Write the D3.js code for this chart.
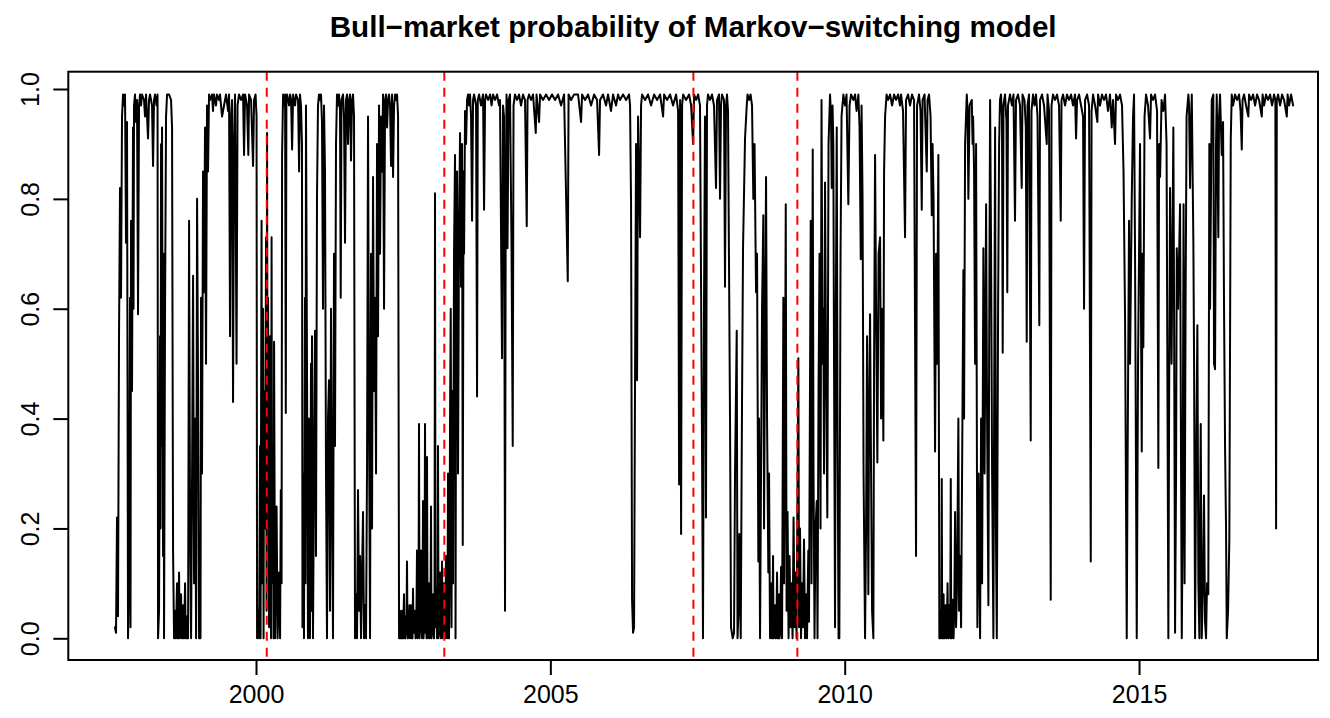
<!DOCTYPE html>
<html>
<head>
<meta charset="utf-8">
<script src="https://cdn.jsdelivr.net/npm/d3@7"></script>
<style>
  html, body { margin: 0; padding: 0; background: #ffffff; }
  svg { display: block; }
  text { font-family: "Liberation Sans", Arial, Helvetica, sans-serif; fill: #000; }
</style>
</head>
<body>
<svg id="chart" width="1330" height="718"></svg>
<script>
// ---------------- data (decimal year, bull-market probability) ----------------
const chartTitle = "Bull\u2212market probability of Markov\u2212switching model";
const xTicks = [2000, 2005, 2010, 2015];
const yTicks = [0, 0.2, 0.4, 0.6, 0.8, 1.0];
const eventYears = [2000.183, 2003.199, 2007.430, 2009.196];

const seg1997 = [[1997.605,0.02],[1997.622,0.01],[1997.639,0.22],[1997.656,0.04],[1997.673,0.55],[1997.690,0.82],[1997.707,0.62],[1997.724,0.95],[1997.741,0.99],[1997.758,0.97],[1997.775,0.99],[1997.792,0.72],[1997.809,0.94],[1997.826,0.0],[1997.843,0.12],[1997.860,0.62],[1997.8685,0.02],[1997.877,0.76],[1997.894,0.45],[1997.911,0.93],[1997.9195,0.6],[1997.928,0.97],[1997.945,0.99],[1997.962,0.94],[1997.979,0.98],[1997.996,0.59],[1998.013,0.97],[1998.030,0.99],[1998.047,0.97],[1998.064,0.99],[1998.098,0.98],[1998.115,0.95],[1998.132,0.99],[1998.166,0.91],[1998.183,0.98],[1998.200,0.99],[1998.234,0.97],[1998.251,0.86],[1998.268,0.98],[1998.285,0.99],[1998.3105,0.97],[1998.3275,0.99],[1998.336,0.0],[1998.353,0.05],[1998.370,0.55],[1998.3785,0.2],[1998.387,0.9],[1998.3955,0.35],[1998.404,0.93],[1998.421,0.15],[1998.4295,0.7],[1998.438,0.0],[1998.455,0.6],[1998.472,0.95],[1998.489,0.99],[1998.523,0.99],[1998.557,0.98],[1998.574,0.93],[1998.591,0.16],[1998.608,0.0],[1998.6165,0.04],[1998.625,0.05],[1998.6335,0.0],[1998.642,0.0],[1998.6505,0.06],[1998.659,0.1],[1998.6675,0.01],[1998.676,0.0],[1998.6845,0.05],[1998.693,0.12],[1998.7015,0.0],[1998.710,0.02],[1998.7185,0.07],[1998.727,0.08],[1998.7355,0.0],[1998.744,0.0],[1998.7525,0.04],[1998.761,0.06],[1998.7695,0.0],[1998.778,0.0],[1998.7865,0.05],[1998.795,0.1],[1998.8035,0.01],[1998.812,0.0],[1998.8205,0.03],[1998.829,0.04],[1998.8375,0.0],[1998.846,0.0],[1998.863,0.76],[1998.880,0.2],[1998.897,0.0],[1998.914,0.3],[1998.931,0.66],[1998.948,0.1],[1998.965,0.4],[1998.982,0.0],[1998.999,0.8],[1999.016,0.45],[1999.033,0.0],[1999.0575,0.0],[1999.066,0.62],[1999.083,0.3],[1999.100,0.85],[1999.117,0.63],[1999.134,0.93],[1999.151,0.5],[1999.168,0.97],[1999.185,0.85],[1999.202,0.99],[1999.219,0.98],[1999.253,0.99],[1999.270,0.96],[1999.287,0.99],[1999.321,0.97],[1999.338,0.99],[1999.372,0.98],[1999.389,0.99],[1999.423,0.95],[1999.457,0.97],[1999.491,0.99],[1999.525,0.96],[1999.542,0.99],[1999.559,0.55],[1999.576,0.95],[1999.593,0.98],[1999.610,0.43],[1999.627,0.9],[1999.644,0.99],[1999.6695,0.5],[1999.6865,0.97],[1999.712,0.99],[1999.746,0.98],[1999.780,0.99],[1999.797,0.88],[1999.814,0.99],[1999.848,0.97],[1999.870,0.88],[1999.882,0.99],[1999.916,0.98],[1999.950,0.86],[1999.967,0.98],[1999.9925,0.99],[2000.0095,0.95],[2000.018,0.0]];

const seg2000 = [[2000.035,0.05],[2000.052,0.0],[2000.069,0.35],[2000.0775,0.0],[2000.0945,0.76],[2000.103,0.1],[2000.120,0.6],[2000.1285,0.0],[2000.137,0.45],[2000.154,0.2],[2000.171,0.73],[2000.1795,0.05],[2000.188,0.92],[2000.1965,0.3],[2000.205,0.62],[2000.222,0.02],[2000.239,0.55],[2000.256,0.0],[2000.2645,0.73],[2000.273,0.1],[2000.290,0.3],[2000.2985,0.0],[2000.307,0.54],[2000.324,0.0],[2000.3495,0.24],[2000.3665,0.0],[2000.392,0.12],[2000.409,0.0],[2000.421,0.27],[2000.4345,0.1],[2000.443,0.88],[2000.460,0.99],[2000.477,0.97],[2000.494,0.99],[2000.506,0.41],[2000.516,0.98],[2000.528,0.99],[2000.562,0.97],[2000.579,0.99],[2000.596,0.98],[2000.613,0.89],[2000.630,0.99],[2000.664,0.97],[2000.681,0.99],[2000.715,0.98],[2000.732,0.85],[2000.747,0.99],[2000.764,0.97],[2000.781,0.9],[2000.7895,0.02],[2000.8065,0.3],[2000.815,0.0],[2000.832,0.62],[2000.8405,0.1],[2000.849,0.97],[2000.866,0.5],[2000.883,0.0],[2000.900,0.4],[2000.917,0.0],[2000.934,0.5],[2000.9425,0.05],[2000.951,0.55],[2000.968,0.0],[2000.985,0.3],[2001.002,0.56],[2001.019,0.15],[2001.036,0.8],[2001.053,0.97],[2001.070,0.99],[2001.087,0.98],[2001.104,0.99],[2001.121,0.94],[2001.138,0.6],[2001.155,0.97],[2001.172,0.85],[2001.189,0.3],[2001.206,0.0],[2001.223,0.4],[2001.240,0.47],[2001.257,0.05],[2001.274,0.6],[2001.291,0.25],[2001.308,0.0],[2001.325,0.7],[2001.342,0.35],[2001.359,0.9],[2001.376,0.99],[2001.393,0.97],[2001.410,0.99],[2001.427,0.96],[2001.439,0.62],[2001.4525,0.98],[2001.478,0.99],[2001.495,0.95],[2001.512,0.72],[2001.529,0.98],[2001.546,0.99],[2001.563,0.9],[2001.580,0.98],[2001.597,0.99],[2001.614,0.87],[2001.631,0.98],[2001.648,0.99],[2001.665,0.95],[2001.682,0.0],[2001.699,0.08],[2001.716,0.0],[2001.733,0.27],[2001.750,0.05],[2001.767,0.15],[2001.784,0.0],[2001.801,0.12],[2001.818,0.23],[2001.835,0.0],[2001.852,0.06],[2001.869,0.0],[2001.886,0.31],[2001.903,0.95],[2001.920,0.4],[2001.937,0.0],[2001.954,0.7],[2001.971,0.2],[2001.988,0.84],[2002.005,0.45],[2002.022,0.62],[2002.039,0.3],[2002.056,0.9],[2002.073,0.55],[2002.090,0.97],[2002.107,0.7],[2002.124,0.95],[2002.141,0.85],[2002.158,0.99],[2002.175,0.6],[2002.192,0.98],[2002.209,0.99],[2002.226,0.93],[2002.243,0.98],[2002.260,0.99],[2002.277,0.97],[2002.294,0.86],[2002.311,0.99],[2002.328,0.84],[2002.345,0.97],[2002.362,0.99],[2002.379,0.98],[2002.396,0.99],[2002.413,0.95],[2002.430,0.0]];

const seg2002 = [[2002.446,0.05],[2002.4545,0.0],[2002.463,0.03],[2002.4715,0.0],[2002.480,0.05],[2002.4885,0.01],[2002.497,0.0],[2002.5055,0.04],[2002.514,0.08],[2002.5225,0.0],[2002.531,0.03],[2002.5395,0.0],[2002.548,0.04],[2002.5565,0.02],[2002.565,0.14],[2002.5735,0.01],[2002.582,0.0],[2002.5905,0.05],[2002.599,0.02],[2002.6075,0.06],[2002.616,0.0],[2002.6245,0.04],[2002.633,0.06],[2002.6415,0.0],[2002.650,0.03],[2002.6585,0.0],[2002.667,0.09],[2002.6755,0.02],[2002.684,0.01],[2002.6925,0.05],[2002.701,0.04],[2002.7095,0.0],[2002.718,0.02],[2002.7265,0.06],[2002.735,0.16],[2002.7435,0.0],[2002.752,0.02],[2002.7605,0.05],[2002.769,0.39],[2002.7775,0.0],[2002.786,0.03],[2002.7945,0.06],[2002.803,0.16],[2002.8115,0.02],[2002.820,0.0],[2002.8285,0.05],[2002.837,0.25],[2002.8455,0.0],[2002.854,0.02],[2002.8625,0.07],[2002.871,0.39],[2002.8795,0.01],[2002.888,0.05],[2002.8965,0.0],[2002.905,0.33],[2002.9135,0.03],[2002.922,0.0],[2002.9305,0.06],[2002.939,0.1],[2002.9475,0.01],[2002.956,0.0],[2002.9645,0.05],[2002.973,0.24],[2002.9815,0.0],[2002.990,0.02],[2002.9985,0.06],[2003.007,0.08],[2003.0155,0.01],[2003.024,0.0],[2003.0325,0.05],[2003.041,0.81],[2003.0495,0.02],[2003.058,0.05],[2003.0665,0.09],[2003.075,0.0],[2003.0835,0.04],[2003.092,0.35],[2003.1005,0.0],[2003.109,0.02],[2003.1175,0.08],[2003.126,0.12],[2003.1345,0.01],[2003.143,0.0],[2003.1515,0.06],[2003.160,0.14],[2003.1685,0.0],[2003.177,0.02],[2003.1855,0.07],[2003.194,0.1],[2003.2025,0.01],[2003.211,0.0],[2003.2195,0.05],[2003.228,0.15],[2003.2365,0.02],[2003.245,0.0],[2003.2535,0.08],[2003.262,0.3],[2003.2705,0.0],[2003.279,0.0],[2003.2875,0.1],[2003.296,0.4],[2003.308,0.6],[2003.3215,0.02],[2003.330,0.45],[2003.347,0.1],[2003.364,0.7],[2003.381,0.88],[2003.3895,0.0],[2003.398,0.5],[2003.415,0.85],[2003.432,0.3],[2003.449,0.75],[2003.466,0.92],[2003.483,0.64],[2003.500,0.9],[2003.512,0.17],[2003.5255,0.85],[2003.534,0.7],[2003.551,0.96],[2003.568,0.9],[2003.585,0.98],[2003.602,0.99],[2003.619,0.97],[2003.636,0.99],[2003.653,0.95],[2003.670,0.76],[2003.687,0.98],[2003.704,0.99],[2003.738,0.97],[2003.755,0.44],[2003.767,0.98],[2003.789,0.99],[2003.823,0.97],[2003.857,0.99],[2003.874,0.78],[2003.891,0.98],[2003.908,0.99],[2003.942,0.98],[2003.976,0.99],[2004.0015,0.97],[2004.027,0.99],[2004.061,0.98],[2004.095,0.99],[2004.129,0.97]];

const seg2004 = [[2004.145,0.98],[2004.179,0.51],[2004.196,0.97],[2004.213,0.95],[2004.230,0.05],[2004.242,0.8],[2004.2555,0.99],[2004.2725,0.71],[2004.2895,0.98],[2004.315,0.99],[2004.3405,0.71],[2004.361,0.35],[2004.3745,0.97],[2004.400,0.99],[2004.434,0.98],[2004.468,0.99],[2004.502,0.97],[2004.536,0.99],[2004.570,0.98],[2004.599,0.75],[2004.6125,0.98],[2004.638,0.99],[2004.672,0.98],[2004.706,0.99],[2004.752,0.92],[2004.7655,0.99],[2004.808,0.94],[2004.825,0.99],[2004.876,0.98],[2004.927,0.99],[2004.978,0.98],[2005.029,0.99],[2005.080,0.98],[2005.131,0.99],[2005.182,0.97],[2005.233,0.99],[2005.296,0.65],[2005.3095,0.99],[2005.352,0.98],[2005.403,0.99],[2005.471,0.99],[2005.522,0.94],[2005.539,0.99],[2005.590,0.98],[2005.641,0.99],[2005.692,0.97],[2005.743,0.99],[2005.794,0.98],[2005.828,0.88],[2005.844,0.98],[2005.895,0.99],[2005.946,0.97],[2005.980,0.99],[2006.031,0.96],[2006.065,0.99],[2006.116,0.97],[2006.150,0.99],[2006.184,0.98],[2006.235,0.99],[2006.286,0.98],[2006.337,0.99],[2006.354,0.97],[2006.371,0.79],[2006.388,0.07],[2006.405,0.01],[2006.422,0.02],[2006.439,0.48],[2006.456,0.9],[2006.473,0.47],[2006.490,0.95],[2006.507,0.85],[2006.524,0.73],[2006.541,0.97],[2006.558,0.99],[2006.609,0.98],[2006.660,0.99],[2006.711,0.97],[2006.762,0.99],[2006.813,0.98],[2006.864,0.99],[2006.915,0.95],[2006.932,0.99],[2006.983,0.98],[2007.034,0.99],[2007.085,0.97],[2007.136,0.99],[2007.170,0.96],[2007.187,0.28],[2007.204,0.98],[2007.221,0.19],[2007.238,0.97],[2007.255,0.99],[2007.306,0.98],[2007.357,0.99],[2007.391,0.97],[2007.425,0.9],[2007.442,0.99],[2007.476,0.98],[2007.510,0.99]];

const seg2007 = [[2007.542,0.97],[2007.576,0.36],[2007.593,0.0],[2007.610,0.6],[2007.627,0.95],[2007.644,0.22],[2007.661,0.97],[2007.678,0.99],[2007.712,0.98],[2007.746,0.99],[2007.780,0.97],[2007.814,0.82],[2007.831,0.98],[2007.865,0.99],[2007.882,0.8],[2007.899,0.97],[2007.916,0.99],[2007.950,0.98],[2007.967,0.64],[2007.984,0.97],[2008.001,0.99],[2008.018,0.96],[2008.052,0.4],[2008.069,0.02],[2008.098,0.0],[2008.120,0.01],[2008.137,0.3],[2008.166,0.56],[2008.1795,0.0],[2008.1965,0.05],[2008.210,0.19],[2008.234,0.0],[2008.256,0.43],[2008.273,0.71],[2008.307,0.91],[2008.336,0.97],[2008.3495,0.99],[2008.375,0.98],[2008.4005,0.99],[2008.426,0.97],[2008.448,0.8],[2008.4685,0.9],[2008.494,0.63],[2008.511,0.7],[2008.533,0.14],[2008.545,0.4],[2008.562,0.0],[2008.579,0.3],[2008.596,0.6],[2008.618,0.77],[2008.630,0.2],[2008.647,0.55],[2008.664,0.84],[2008.681,0.4],[2008.703,0.12],[2008.715,0.3],[2008.732,0.0],[2008.7405,0.05],[2008.749,0.1],[2008.7575,0.01],[2008.766,0.0],[2008.7745,0.06],[2008.783,0.15],[2008.7915,0.0],[2008.800,0.02],[2008.8085,0.05],[2008.817,0.06],[2008.8255,0.0],[2008.834,0.0],[2008.8425,0.04],[2008.851,0.12],[2008.8595,0.01],[2008.868,0.0],[2008.8765,0.05],[2008.885,0.08],[2008.8935,0.0],[2008.902,0.01],[2008.9105,0.06],[2008.919,0.13],[2008.9275,0.02],[2008.936,0.0],[2008.958,0.62],[2008.970,0.1],[2008.987,0.45],[2008.999,0.79],[2009.0125,0.05],[2009.0295,0.23],[2009.0465,0.0],[2009.0635,0.15],[2009.0805,0.02],[2009.0975,0.1],[2009.1145,0.0],[2009.1315,0.22],[2009.1485,0.02],[2009.1655,0.12],[2009.1825,0.0],[2009.1995,0.3],[2009.213,0.51],[2009.225,0.02]];

const seg2009 = [[2009.241,0.2],[2009.258,0.0],[2009.275,0.1],[2009.292,0.02],[2009.309,0.18],[2009.326,0.0],[2009.343,0.08],[2009.360,0.0],[2009.382,0.16],[2009.394,0.03],[2009.411,0.47],[2009.423,0.76],[2009.4365,0.1],[2009.457,0.89],[2009.4705,0.3],[2009.4875,0.0],[2009.5045,0.2],[2009.525,0.25],[2009.5385,0.0],[2009.5555,0.45],[2009.5725,0.7],[2009.5895,0.2],[2009.6065,0.98],[2009.6235,0.5],[2009.637,0.6],[2009.649,0.3],[2009.666,0.83],[2009.683,0.5],[2009.705,0.22],[2009.7255,0.9],[2009.751,0.99],[2009.768,0.95],[2009.780,0.82],[2009.7935,0.97],[2009.807,0.9],[2009.819,0.5],[2009.836,0.02],[2009.850,0.6],[2009.865,0.93],[2009.8785,0.4],[2009.8955,0.0],[2009.909,0.0],[2009.9295,0.7],[2009.9465,0.95],[2009.977,0.99],[2010.006,0.97],[2010.0315,0.99],[2010.062,0.79],[2010.0825,0.97],[2010.108,0.99],[2010.147,0.98],[2010.176,0.99],[2010.2015,0.96],[2010.232,0.99],[2010.2525,0.93],[2010.273,0.69],[2010.2865,0.97],[2010.3035,0.8],[2010.3205,0.3],[2010.346,0.0],[2010.363,0.2],[2010.380,0.55],[2010.402,0.08],[2010.414,0.4],[2010.431,0.59],[2010.448,0.3],[2010.465,0.05],[2010.487,0.0],[2010.499,0.5],[2010.516,0.88],[2010.533,0.6],[2010.555,0.32],[2010.5755,0.7],[2010.601,0.73],[2010.618,0.4],[2010.635,0.6],[2010.657,0.36],[2010.669,0.85],[2010.686,0.95],[2010.7115,0.99],[2010.737,0.98],[2010.771,0.99],[2010.805,0.97],[2010.839,0.99],[2010.873,0.98],[2010.907,0.99]];

const seg2011 = [[2010.940,0.97],[2010.957,0.99],[2010.991,0.96],[2011.025,0.73],[2011.042,0.98],[2011.076,0.99],[2011.110,0.97],[2011.144,0.99],[2011.178,0.98],[2011.212,0.15],[2011.229,0.97],[2011.263,0.99],[2011.2885,0.96],[2011.309,0.78],[2011.3225,0.98],[2011.3565,0.99],[2011.394,0.85],[2011.4075,0.98],[2011.433,0.99],[2011.4585,0.95],[2011.479,0.77],[2011.4925,0.9],[2011.5095,0.8],[2011.535,0.34],[2011.552,0.7],[2011.569,0.5],[2011.591,0.88],[2011.608,0.0],[2011.614,0.03],[2011.620,0.05],[2011.6285,0.0],[2011.637,0.0],[2011.643,0.06],[2011.649,0.29],[2011.656,0.01],[2011.6625,0.0],[2011.671,0.04],[2011.6795,0.08],[2011.688,0.0],[2011.6965,0.0],[2011.705,0.05],[2011.7135,0.06],[2011.722,0.01],[2011.7305,0.0],[2011.739,0.04],[2011.7475,0.1],[2011.756,0.0],[2011.7645,0.01],[2011.773,0.06],[2011.7815,0.05],[2011.792,0.0],[2011.802,0.29],[2011.809,0.02],[2011.8155,0.0],[2011.824,0.05],[2011.8325,0.07],[2011.841,0.01],[2011.8495,0.0],[2011.862,0.06],[2011.875,0.23],[2011.892,0.02],[2011.909,0.1],[2011.931,0.4],[2011.943,0.05],[2011.960,0.15],[2011.977,0.02],[2011.994,0.3],[2012.016,0.67],[2012.028,0.4],[2012.045,0.9],[2012.074,0.99],[2012.0875,0.96],[2012.101,0.8],[2012.1215,0.97],[2012.159,0.98],[2012.1725,0.9],[2012.181,0.95],[2012.198,0.85],[2012.215,0.5],[2012.232,0.9],[2012.254,0.02],[2012.2745,0.3],[2012.300,0.0],[2012.317,0.4],[2012.334,0.1],[2012.356,0.71],[2012.3765,0.3],[2012.402,0.79],[2012.419,0.4],[2012.441,0.06],[2012.453,0.5],[2012.470,0.98],[2012.487,0.7],[2012.504,0.3],[2012.526,0.0],[2012.538,0.4],[2012.555,0.93],[2012.5685,0.2],[2012.584,0.0],[2012.606,0.6],[2012.623,0.9]];

const seg2012 = [[2012.638,0.98],[2012.655,0.99],[2012.672,0.95],[2012.684,0.52],[2012.6975,0.97],[2012.723,0.99],[2012.7485,0.94],[2012.762,0.63],[2012.774,0.97],[2012.808,0.99],[2012.842,0.97],[2012.8675,0.99],[2012.893,0.76],[2012.910,0.98],[2012.944,0.99],[2012.978,0.97],[2013.007,0.82],[2013.0205,0.99],[2013.0545,0.98],[2013.0765,0.93],[2013.092,0.54],[2013.1055,0.97],[2013.131,0.99],[2013.160,0.36],[2013.1735,0.96],[2013.199,0.99],[2013.2245,0.97],[2013.250,0.99],[2013.2755,0.95],[2013.306,0.57],[2013.318,0.98],[2013.352,0.99],[2013.386,0.97],[2013.432,0.9],[2013.4455,0.99],[2013.471,0.96],[2013.500,0.07],[2013.5135,0.97],[2013.539,0.99],[2013.573,0.98],[2013.607,0.99],[2013.641,0.97],[2013.670,0.76],[2013.6835,0.98],[2013.709,0.99],[2013.743,0.97],[2013.777,0.99],[2013.811,0.98],[2013.845,0.99],[2013.879,0.97],[2013.913,0.99],[2013.930,0.91],[2013.947,0.98],[2013.981,0.99],[2014.015,0.97],[2014.049,0.95],[2014.066,0.6],[2014.083,0.98],[2014.117,0.99],[2014.151,0.97],[2014.180,0.14],[2014.1935,0.96],[2014.219,0.99],[2014.253,0.97],[2014.292,0.94],[2014.304,0.99],[2014.337,0.97],[2014.371,0.99],[2014.405,0.98],[2014.439,0.99],[2014.473,0.96],[2014.507,0.99],[2014.536,0.93],[2014.558,0.98],[2014.592,0.9],[2014.609,0.99],[2014.643,0.98],[2014.677,0.99],[2014.711,0.97],[2014.7365,0.85],[2014.762,0.59],[2014.791,0.0],[2014.8045,0.3],[2014.830,0.76],[2014.847,0.5],[2014.876,0.8],[2014.898,0.95],[2014.915,0.99],[2014.932,0.7],[2014.961,0.0],[2014.983,0.5]];

const seg2015 = [[2015.017,0.9],[2015.046,0.34],[2015.0595,0.7],[2015.073,0.53],[2015.0935,0.95],[2015.119,0.99],[2015.153,0.97],[2015.187,0.91],[2015.204,0.99],[2015.238,0.98],[2015.272,0.99],[2015.306,0.96],[2015.328,0.31],[2015.340,0.9],[2015.357,0.84],[2015.3825,0.98],[2015.413,0.96],[2015.442,0.99],[2015.4675,0.9],[2015.498,0.0],[2015.510,0.4],[2015.527,0.82],[2015.5525,0.5],[2015.583,0.93],[2015.595,0.6],[2015.612,0.01],[2015.629,0.3],[2015.641,0.71],[2015.663,0.6],[2015.697,0.79],[2015.714,0.3],[2015.726,0.0],[2015.7395,0.2],[2015.7565,0.79],[2015.7735,0.1],[2015.7905,0.6],[2015.8075,0.95],[2015.838,0.99],[2015.850,0.97],[2015.867,0.82],[2015.879,0.92],[2015.896,0.99],[2015.923,0.72],[2015.935,0.5],[2015.952,0.0],[2015.969,0.3],[2015.991,0.57],[2016.008,0.1],[2016.025,0.0],[2016.036,0.2],[2016.048,0.39],[2016.065,0.0],[2016.087,0.1],[2016.104,0.26],[2016.121,0.03],[2016.138,0.0],[2016.155,0.1],[2016.177,0.08],[2016.194,0.9],[2016.206,0.6],[2016.235,0.98],[2016.262,0.99],[2016.274,0.5],[2016.291,0.49],[2016.308,0.9],[2016.320,0.99],[2016.347,0.73],[2016.359,0.95],[2016.376,0.99],[2016.405,0.88],[2016.427,0.94],[2016.444,0.6],[2016.461,0.35],[2016.478,0.2],[2016.490,0.0],[2016.512,0.05],[2016.534,0.18],[2016.558,0.91],[2016.575,0.99],[2016.597,0.97],[2016.631,0.99],[2016.665,0.98],[2016.699,0.99],[2016.7245,0.96],[2016.745,0.89],[2016.7585,0.98],[2016.784,0.99],[2016.818,0.97],[2016.857,0.95],[2016.869,0.99],[2016.903,0.98],[2016.937,0.99],[2016.971,0.97],[2017.005,0.99],[2017.039,0.98],[2017.085,0.95],[2017.0985,0.99],[2017.124,0.97],[2017.158,0.99],[2017.192,0.98],[2017.226,0.99],[2017.260,0.97],[2017.294,0.99],[2017.316,0.98],[2017.328,0.2],[2017.340,0.98],[2017.362,0.99],[2017.396,0.97],[2017.430,0.99],[2017.464,0.98],[2017.510,0.95],[2017.5235,0.99],[2017.549,0.97],[2017.583,0.99],[2017.617,0.97]];

const bullProb = [].concat(seg1997, seg2000, seg2002, seg2004, seg2007, seg2009, seg2011, seg2012, seg2015);

// ---------------- layout ----------------
const W = 1330, H = 718;
const box = { left: 68.3, right: 1318, top: 71.7, bottom: 660 };
const xDomain = [1996.8115, 2018.040];
const yDomain = [-0.0395, 1.0315];

const svg = d3.select("#chart");
svg.append("rect").attr("width", W).attr("height", H).attr("fill", "#fff");

const x = d3.scaleLinear().domain(xDomain).range([box.left, box.right]);
const y = d3.scaleLinear().domain(yDomain).range([box.bottom, box.top]);

// title
svg.append("text")
  .attr("x", (box.left + box.right) / 2)
  .attr("y", 37)
  .attr("text-anchor", "middle")
  .style("font-size", "29.6px")
  .style("font-weight", "bold")
  .text(chartTitle);

// series line
const line = d3.line().x(d => x(d[0])).y(d => y(d[1]));
svg.append("path")
  .datum(bullProb)
  .attr("d", line)
  .attr("fill", "none")
  .attr("stroke", "#000")
  .attr("stroke-width", 2)
  .attr("stroke-linejoin", "round")
  .attr("stroke-linecap", "round");

// event lines
svg.selectAll("line.event")
  .data(eventYears)
  .enter().append("line")
  .attr("class", "event")
  .attr("x1", d => x(d)).attr("x2", d => x(d))
  .attr("y1", box.top).attr("y2", box.bottom)
  .attr("stroke", "#ff0000")
  .attr("stroke-width", 2)
  .attr("stroke-dasharray", "9,7");

// box
svg.append("rect")
  .attr("x", box.left).attr("y", box.top)
  .attr("width", box.right - box.left).attr("height", box.bottom - box.top)
  .attr("fill", "none").attr("stroke", "#000").attr("stroke-width", 2);

// x axis
const xAxis = svg.append("g")
  .attr("transform", `translate(0,${box.bottom})`)
  .call(d3.axisBottom(x).tickValues(xTicks).tickSize(15).tickFormat(d3.format("d")));
xAxis.select(".domain").remove();
xAxis.selectAll("line").attr("stroke", "#000").attr("stroke-width", 2);
xAxis.selectAll("text")
  .attr("y", 43).attr("dy", 0)
  .style("font-size", "25px")
  .style("font-family", "'Liberation Sans', Arial, Helvetica, sans-serif")
  .attr("fill", "#000");

// y axis
const yAxis = svg.append("g")
  .attr("transform", `translate(${box.left},0)`)
  .call(d3.axisLeft(y).tickValues(yTicks).tickSize(15).tickFormat(d3.format(".1f")));
yAxis.select(".domain").remove();
yAxis.selectAll("line").attr("stroke", "#000").attr("stroke-width", 2);
yAxis.selectAll("text")
  .attr("transform", "rotate(-90)")
  .attr("x", 0).attr("y", -29).attr("dy", 0)
  .attr("text-anchor", "middle")
  .style("font-size", "25px")
  .style("font-family", "'Liberation Sans', Arial, Helvetica, sans-serif")
  .attr("fill", "#000");
</script>
</body>
</html>
